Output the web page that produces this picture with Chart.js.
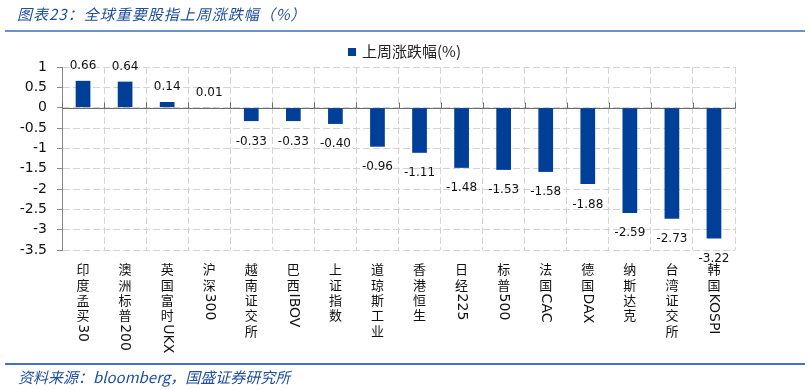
<!DOCTYPE html>
<html>
<head>
<meta charset="utf-8">
<script src="https://cdn.jsdelivr.net/npm/chart.js@4/dist/chart.umd.min.js"></script>
<style>
  body { margin: 0; background: #fff; }
  #wrap { position: relative; width: 810px; height: 390px; overflow: hidden; }
  #chart { position: absolute; left: 0; top: 0; }
  .title { position: absolute; left: 17px; top: 3px; font: italic 15px "Noto Sans CJK SC"; letter-spacing: 1px; color: #1f4e9a; white-space: nowrap; }
  .rule { position: absolute; left: 5px; width: 800px; height: 2px; }
  .legend { position: absolute; left: 348px; top: 40px; font: 15px "Noto Sans CJK SC"; color: #222; white-space: nowrap; }
  .legend i { display: inline-block; width: 8px; height: 8px; background: #003f98; margin-right: 6px; vertical-align: 1px; }
  .source { position: absolute; left: 18px; top: 366px; font: italic 15px "Noto Sans CJK SC"; color: #1f4e9a; white-space: nowrap; }
</style>
</head>
<body>
<div id="wrap">
  <canvas id="chart" width="810" height="390"></canvas>
  <div class="title">图表23：全球重要股指上周涨跌幅（%）</div>
  <div class="rule" style="top:30px;background:#6b93c9;"></div>
  <div class="legend"><i></i>上周涨跌幅(%)</div>
  <div class="rule" style="top:363px;background:#3f74c2;"></div>
  <div class="source">资料来源：bloomberg，国盛证券研究所</div>
</div>
<script>
/* data */
const categories = ["印度孟买30", "澳洲标普200", "英国富时UKX", "沪深300", "越南证交所", "巴西IBOV", "上证指数", "道琼斯工业",
  "香港恒生", "日经225", "标普500", "法国CAC", "德国DAX", "纳斯达克", "台湾证交所", "韩国KOSPI"];
const weeklyChange = [0.66, 0.64, 0.14, 0.01, -0.33, -0.33, -0.40, -0.96, -1.11, -1.48, -1.53, -1.58, -1.88, -2.59, -2.73, -3.22];
const yMin = -3.5, yMax = 1, yStep = 0.5;

const barColor = "#003f98";

/* zero line with small upward ticks */
const zeroLine = {
  id: "zeroLine",
  beforeDatasetsDraw(chart) {
    const { ctx, chartArea, scales } = chart;
    const y0 = Math.round(scales.y.getPixelForValue(0)) + 0.5;
    ctx.save();
    ctx.strokeStyle = "#6e6e6e";
    ctx.lineWidth = 1;
    ctx.beginPath();
    ctx.moveTo(chartArea.left, y0);
    ctx.lineTo(chartArea.right, y0);
    for (let i = 0; i <= categories.length; i++) {
      const x = Math.round(scales.x.getPixelForValue(i - 0.5)) + 0.5;
      ctx.moveTo(x, y0);
      ctx.lineTo(x, y0 - 6);
    }
    ctx.stroke();
    ctx.restore();
  }
};

/* value labels */
const valueLabels = {
  id: "valueLabels",
  afterDatasetsDraw(chart) {
    const { ctx } = chart;
    const meta = chart.getDatasetMeta(0);
    ctx.save();
    ctx.font = '12px "DejaVu Sans"';
    ctx.fillStyle = "#111";
    ctx.textAlign = "center";
    ctx.textBaseline = "alphabetic";
    meta.data.forEach((bar, i) => {
      const v = weeklyChange[i];
      const y = v >= 0 ? bar.y - 11.5 : bar.y + 23.5;
      ctx.fillText(v.toFixed(2), bar.x, y);
    });
    ctx.restore();
  }
};

/* vertical category labels: CJK upright, latin rotated */
function drawVertical(ctx, text, x, y) {
  const runs = text.match(/[A-Za-z0-9]+|[^A-Za-z0-9]/g);
  runs.forEach(r => {
    if (/^[A-Za-z0-9]+$/.test(r)) {
      ctx.font = '14px "DejaVu Sans"';
      const w = ctx.measureText(r).width;
      ctx.save();
      ctx.translate(x, y);
      ctx.rotate(Math.PI / 2);
      ctx.textAlign = "left";
      ctx.textBaseline = "middle";
      ctx.fillText(r, 0, 0);
      ctx.restore();
      y += w;
    } else {
      ctx.font = '13px "Noto Sans CJK SC"';
      ctx.textAlign = "center";
      ctx.textBaseline = "top";
      ctx.fillText(r, x, y);
      y += 15.3;
    }
  });
}

const categoryLabels = {
  id: "categoryLabels",
  afterDraw(chart) {
    const { ctx, scales } = chart;
    ctx.save();
    ctx.fillStyle = "#111";
    categories.forEach((c, i) => {
      drawVertical(ctx, c, scales.x.getPixelForValue(i), 263);
    });
    ctx.restore();
  }
};

new Chart(document.getElementById("chart"), {
  type: "bar",
  data: {
    labels: categories,
    datasets: [{
      label: "上周涨跌幅(%)",
      data: weeklyChange,
      backgroundColor: barColor,
      barPercentage: 0.35,
      categoryPercentage: 1
    }]
  },
  options: {
    responsive: false,
    animation: false,
    layout: { padding: { left: 0, top: 67, right: 75, bottom: 0 } },
    plugins: { legend: { display: false }, tooltip: { enabled: false } },
    scales: {
      x: {
        ticks: { display: false },
        grid: { color: "#d4d4d4", drawTicks: false, offset: true },
        border: { display: false, dash: [7, 3] },
        afterFit(scale) { scale.height = 140; }
      },
      y: {
        min: yMin,
        max: yMax,
        ticks: {
          stepSize: yStep,
          color: "#111",
          font: { family: "DejaVu Sans", size: 14 },
          padding: 10,
          callback: v => String(Math.round(v * 10) / 10)
        },
        grid: { color: "#d4d4d4", tickColor: "#888", tickLength: 5 },
        border: { display: true, color: "#888", dash: [7, 3] },
        afterFit(scale) { scale.width = 62; }
      }
    }
  },
  plugins: [zeroLine, valueLabels, categoryLabels]
});
</script>
</body>
</html>
